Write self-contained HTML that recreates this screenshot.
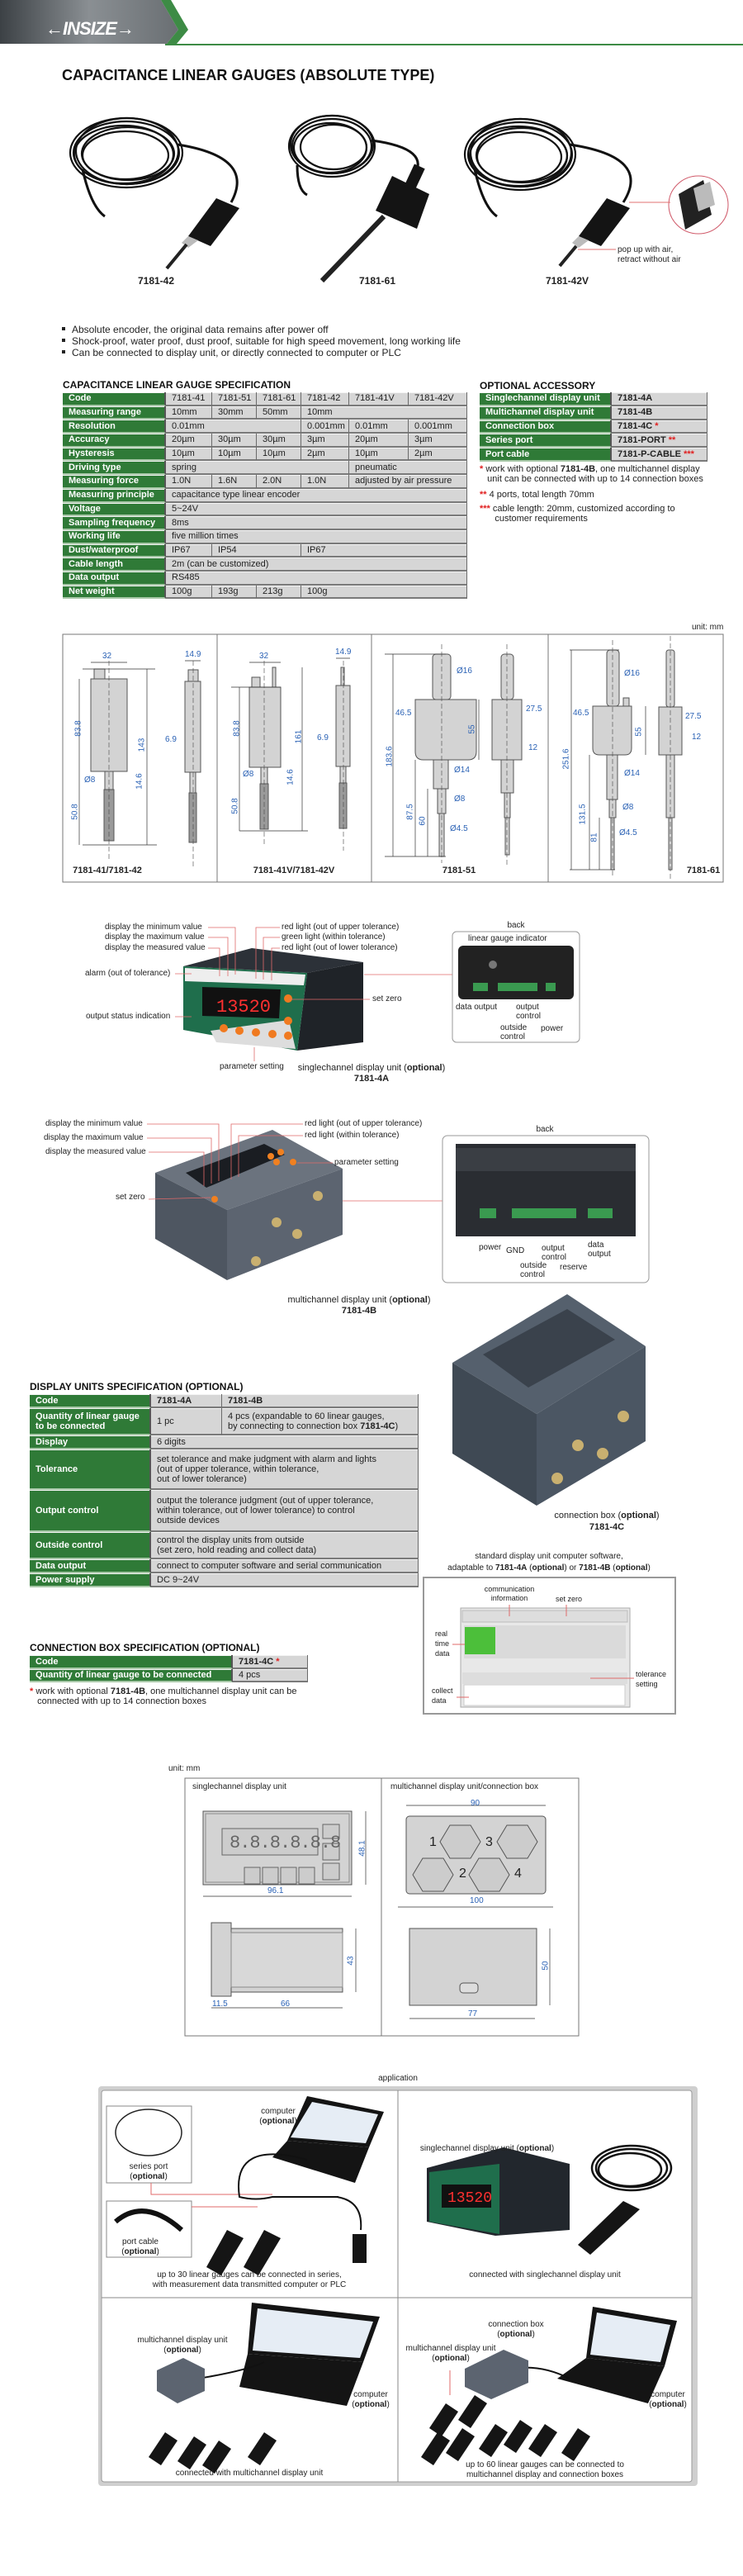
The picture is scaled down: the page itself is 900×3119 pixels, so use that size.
<!DOCTYPE html>
<html><head><meta charset="utf-8"><style>
*{margin:0;padding:0;box-sizing:border-box}
body{width:900px;height:3119px;position:relative;background:#fff;font-family:"Liberation Sans Narrow","Liberation Sans",sans-serif;color:#222;overflow:hidden}
.t{position:absolute;white-space:nowrap;font-size:11px;line-height:12px}
.c{text-align:center;transform:translateX(-50%)}
.h{position:absolute;font-weight:bold;font-size:13px;white-space:nowrap;color:#111}
table{position:absolute;border-collapse:separate;border-spacing:0;table-layout:fixed;font-size:11px}
td{background:#d6d6d6;border-right:1px solid #6a6a6a;border-bottom:2px solid #7a7a7a;padding:0 0 0 7px;white-space:nowrap;overflow:hidden;line-height:12px;box-shadow:inset 0 1px 0 #f4f4f4}
td.g{background:#2f7a37;color:#fff;font-weight:bold;border-bottom:2px solid #a8c8a8;border-right:2px solid #555}
.r{color:#e02020;font-weight:bold}
.b{color:#2b62b5;font-size:10px}
</style></head><body>
<svg width="900" height="3119" style="position:absolute;left:0;top:0">
<defs>
<linearGradient id="hd" x1="0" x2="1"><stop offset="0" stop-color="#3c4145"/><stop offset=".5" stop-color="#8a8f93"/><stop offset="1" stop-color="#6a6f73"/></linearGradient>
</defs>
<polygon points="0,0 195,0 216,36 202,53 0,53" fill="url(#hd)"/>
<polygon points="195,0 207,0 228,36 214,53 202,53 216,36" fill="#3d8b45"/>
<rect x="200" y="53" width="700" height="2" fill="#3d8b45"/>
<g fill="none" stroke="#111" stroke-width="2.2">
<ellipse cx="153" cy="185" rx="68" ry="42"/><ellipse cx="153" cy="185" rx="64" ry="38"/><ellipse cx="150" cy="187" rx="60" ry="35"/><ellipse cx="155" cy="186" rx="56" ry="32"/><ellipse cx="152" cy="188" rx="52" ry="29"/><ellipse cx="154" cy="183" rx="62" ry="40"/>
<path d="M215,175 Q310,190 280,245" stroke-width="3"/><path d="M100,205 Q110,250 127,262" stroke-width="3"/>
<ellipse cx="402" cy="177" rx="52" ry="37"/><ellipse cx="402" cy="177" rx="48" ry="33"/><ellipse cx="400" cy="179" rx="44" ry="30"/><ellipse cx="404" cy="178" rx="40" ry="27"/><ellipse cx="402" cy="175" rx="50" ry="35"/>
<path d="M450,170 Q525,180 500,215" stroke-width="3"/><path d="M360,200 Q360,230 372,236" stroke-width="3"/>
<ellipse cx="630" cy="187" rx="67" ry="43"/><ellipse cx="630" cy="187" rx="63" ry="39"/><ellipse cx="628" cy="189" rx="59" ry="36"/><ellipse cx="632" cy="188" rx="55" ry="33"/><ellipse cx="629" cy="190" rx="51" ry="30"/><ellipse cx="631" cy="185" rx="61" ry="41"/>
<path d="M690,175 Q790,190 755,245" stroke-width="3"/><path d="M575,205 Q585,250 602,262" stroke-width="3"/>
</g>
<g fill="#141414">
<polygon points="262,240 290,252 255,298 228,286"/><polygon points="228,286 240,291 228,300 220,294" fill="#bbb"/>
<line x1="226" y1="296" x2="202" y2="325" stroke="#222" stroke-width="4"/>
<polygon points="475,213 520,235 505,277 455,255"/><rect x="495" y="200" width="14" height="30" transform="rotate(25 502 215)"/>
<line x1="465" y1="262" x2="390" y2="340" stroke="#222" stroke-width="6"/>
<polygon points="735,240 763,252 728,298 701,286"/><polygon points="701,286 713,291 701,300 693,294" fill="#bbb"/>
<line x1="698" y1="298" x2="678" y2="322" stroke="#222" stroke-width="4"/>
</g>
<ellipse cx="846" cy="248" rx="36" ry="35" fill="#fff" stroke="#d05a6a" stroke-width="1"/>
<polygon points="822,235 852,218 862,260 830,278" fill="#222"/><polygon points="840,228 860,220 866,248 846,256" fill="#bbb"/>
<line x1="762" y1="245" x2="812" y2="245" stroke="#e07070"/><line x1="700" y1="302" x2="746" y2="302" stroke="#e07070"/>
<rect x="75" y="396" width="4" height="4" fill="#222"/><rect x="75" y="410" width="4" height="4" fill="#222"/><rect x="75" y="424" width="4" height="4" fill="#222"/>
<rect x="76" y="768" width="800" height="300" fill="none" stroke="#777"/>
<line x1="263" y1="768" x2="263" y2="1068" stroke="#777"/><line x1="450" y1="768" x2="450" y2="1068" stroke="#777"/><line x1="664" y1="768" x2="664" y2="1068" stroke="#777"/>
<g fill="#d3d3d3" stroke="#555" stroke-width="1">
<rect x="114" y="810" width="13" height="12"/><rect x="110" y="822" width="44" height="112"/><rect x="127" y="934" width="10" height="22"/><rect x="126" y="956" width="12" height="62" fill="#9a9a9a"/>
<rect x="228" y="811" width="12" height="14"/><rect x="224" y="825" width="19" height="110"/><rect x="230" y="935" width="7" height="25"/><rect x="229" y="960" width="9" height="60" fill="#9a9a9a"/>
<rect x="305" y="820" width="10" height="12"/><rect x="330" y="808" width="4" height="24"/><rect x="302" y="832" width="38" height="97"/><rect x="316" y="929" width="8" height="20"/><rect x="315" y="949" width="10" height="55" fill="#9a9a9a"/>
<rect x="413" y="808" width="4" height="22"/><rect x="407" y="830" width="17" height="98"/><rect x="412" y="928" width="7" height="20"/><rect x="411" y="948" width="9" height="55" fill="#9a9a9a"/>
<rect x="524" y="792" width="22" height="55" rx="4"/><path d="M503,847 H577 V910 Q577,920 567,920 H513 Q503,920 503,910Z"/><rect x="525" y="920" width="18" height="35"/><rect x="530" y="955" width="10" height="30"/><rect x="532" y="985" width="6" height="52"/>
<rect x="607" y="792" width="15" height="55" rx="4"/><rect x="596" y="847" width="36" height="73"/><rect x="607" y="920" width="15" height="40"/><rect x="611" y="960" width="7" height="30"/><rect x="612" y="990" width="5" height="45"/>
<rect x="735" y="787" width="15" height="68" rx="4"/><rect x="755" y="845" width="7" height="10"/><path d="M718,855 H765 V906 Q765,914 757,914 H726 Q718,914 718,906Z"/><rect x="735" y="914" width="13" height="54"/><rect x="738" y="968" width="8" height="22"/><rect x="740" y="990" width="4" height="63"/>
<rect x="807" y="787" width="10" height="69" rx="3"/><rect x="798" y="856" width="28" height="58"/><rect x="807" y="914" width="10" height="76"/><rect x="810" y="990" width="4" height="63"/>
</g>
<g stroke="#333" stroke-width=".7" fill="none">
<line x1="100" y1="810" x2="188" y2="810"/><line x1="100" y1="1023" x2="190" y2="1023"/><line x1="96" y1="822" x2="96" y2="934"/><line x1="178" y1="810" x2="178" y2="1023"/><line x1="96" y1="934" x2="96" y2="1023"/>
<line x1="110" y1="802" x2="154" y2="802"/><line x1="224" y1="800" x2="243" y2="800"/>
<line x1="280" y1="832" x2="340" y2="832"/><line x1="290" y1="1006" x2="373" y2="1006"/><line x1="366" y1="808" x2="366" y2="1006"/><line x1="290" y1="832" x2="290" y2="929"/><line x1="290" y1="929" x2="290" y2="1006"/>
<line x1="302" y1="802" x2="340" y2="802"/><line x1="407" y1="797" x2="424" y2="797"/>
<line x1="466" y1="792" x2="540" y2="792"/><line x1="466" y1="1037" x2="540" y2="1037"/><line x1="476" y1="792" x2="476" y2="1037"/><line x1="503" y1="920" x2="503" y2="1037"/><line x1="518" y1="955" x2="518" y2="1037"/><line x1="580" y1="847" x2="580" y2="920"/>
<line x1="690" y1="787" x2="750" y2="787"/><line x1="690" y1="1053" x2="745" y2="1053"/><line x1="692" y1="787" x2="692" y2="1053"/><line x1="714" y1="914" x2="714" y2="1053"/><line x1="726" y1="990" x2="726" y2="1053"/><line x1="782" y1="855" x2="782" y2="914"/>
</g>
<g stroke="#444" stroke-dasharray="6,3" stroke-width=".6"><line x1="132" y1="800" x2="132" y2="1040"/><line x1="234" y1="800" x2="234" y2="1050"/><line x1="320" y1="800" x2="320" y2="1025"/><line x1="416" y1="800" x2="416" y2="1030"/><line x1="535" y1="780" x2="535" y2="1045"/><line x1="614" y1="780" x2="614" y2="1050"/><line x1="742" y1="775" x2="742" y2="1060"/><line x1="812" y1="770" x2="812" y2="1065"/></g>
<polygon points="222,1170 305,1148 440,1165 372,1178" fill="#2c3138"/>
<polygon points="372,1178 440,1165 440,1262 360,1272" fill="#1f2328"/>
<polygon points="222,1170 372,1178 360,1272 222,1247" fill="#1f6e4c"/>
<polygon points="224,1172 370,1180 368,1193 224,1188" fill="#eee"/>
<polygon points="245,1195 340,1198 338,1233 245,1230" fill="#111"/>
<polygon points="255,1248 350,1235 358,1270 262,1262" fill="#ddd"/>
<g fill="#f07a20"><circle cx="271" cy="1245" r="5"/><circle cx="290" cy="1248" r="5"/><circle cx="310" cy="1250" r="5"/><circle cx="330" cy="1252" r="5"/><circle cx="349" cy="1254" r="5"/><circle cx="349" cy="1236" r="5"/><circle cx="349" cy="1209" r="5"/></g>
<text x="262" y="1225" font-family="Liberation Mono" font-size="22" fill="#ff3030">13520</text>
<g stroke="#e06a6a" stroke-width=".8" fill="none">
<polyline points="252,1123 285,1123 285,1180"/><polyline points="252,1135 276,1135 276,1182"/><polyline points="252,1148 266,1148 266,1182"/>
<polyline points="339,1123 310,1123 310,1185"/><polyline points="339,1135 319,1135 319,1186"/><polyline points="339,1148 329,1148 329,1187"/>
<line x1="212" y1="1179" x2="232" y2="1179"/><line x1="212" y1="1231" x2="232" y2="1231"/><line x1="308" y1="1268" x2="308" y2="1285"/><line x1="350" y1="1210" x2="448" y2="1210"/>
<line x1="441" y1="1180" x2="548" y2="1180"/>
<line x1="415" y1="1454" x2="536" y2="1454"/>
</g>
<rect x="548" y="1128" width="154" height="134" rx="5" fill="#fff" stroke="#999"/>
<rect x="555" y="1145" width="140" height="65" rx="6" fill="#222"/>
<g fill="#3a9a50"><rect x="573" y="1190" width="18" height="10"/><rect x="603" y="1190" width="48" height="10"/><rect x="661" y="1190" width="12" height="10"/></g>
<circle cx="597" cy="1168" r="5" fill="#777"/>
<polygon points="188,1420 330,1368 415,1415 275,1465" fill="#6b737e"/>
<polygon points="188,1420 275,1465 275,1550 188,1500" fill="#4e5661"/>
<polygon points="275,1465 415,1415 415,1495 275,1550" fill="#5c6470"/>
<polygon points="225,1420 320,1385 345,1398 250,1438" fill="#1a1d22"/>
<g fill="#f08020"><circle cx="328" cy="1400" r="4"/><circle cx="340" cy="1395" r="4"/><circle cx="335" cy="1407" r="4"/><circle cx="355" cy="1407" r="4"/><circle cx="260" cy="1452" r="4"/></g>
<g fill="#c9b070"><circle cx="335" cy="1480" r="6"/><circle cx="360" cy="1494" r="6"/><circle cx="385" cy="1448" r="6"/><circle cx="310" cy="1527" r="6"/></g>
<g stroke="#e06a6a" stroke-width=".8" fill="none">
<polyline points="178,1361 265,1361 265,1430"/><polyline points="178,1378 256,1378 256,1433"/><polyline points="180,1395 247,1395 247,1436"/>
<polyline points="367,1361 280,1361 280,1428"/><polyline points="367,1375 289,1375 289,1425"/>
<line x1="360" y1="1408" x2="403" y2="1408"/><line x1="180" y1="1452" x2="255" y2="1450"/>
</g>
<rect x="536" y="1375" width="250" height="178" rx="6" fill="#fff" stroke="#999"/>
<rect x="552" y="1385" width="218" height="112" fill="#2a2d32"/><rect x="552" y="1390" width="218" height="28" fill="#3a3e44"/>
<g fill="#3a9a50"><rect x="581" y="1463" width="20" height="12"/><rect x="620" y="1463" width="78" height="12"/><rect x="712" y="1463" width="30" height="12"/></g>
<polygon points="548,1650 687,1567 782,1630 650,1712" fill="#55606d"/>
<polygon points="548,1650 650,1712 650,1823 548,1760" fill="#3f4954"/>
<polygon points="650,1712 782,1630 782,1745 650,1823" fill="#4b5663"/>
<polygon points="585,1640 687,1585 745,1622 640,1680" fill="#3a424c"/>
<g fill="#c9b070"><circle cx="700" cy="1750" r="7"/><circle cx="730" cy="1760" r="7"/><circle cx="755" cy="1715" r="7"/><circle cx="675" cy="1790" r="7"/></g>
<rect x="513" y="1910" width="305" height="165" fill="#fff" stroke="#999" stroke-width="2"/>
<rect x="558" y="1947" width="205" height="120" fill="#e8e8e8" stroke="#aaa"/>
<rect x="560" y="1950" width="200" height="14" fill="#ddd" stroke="#bbb"/>
<rect x="562" y="1968" width="196" height="40" fill="#dadada"/>
<rect x="563" y="1970" width="37" height="33" fill="#4cbf3a"/>
<rect x="560" y="2025" width="200" height="14" fill="#ddd"/>
<rect x="562" y="2040" width="195" height="25" fill="#fff" stroke="#ccc"/>
<g stroke="#e06a6a" stroke-width="1"><line x1="617" y1="1943" x2="617" y2="1957"/><line x1="686" y1="1943" x2="686" y2="1957"/><line x1="548" y1="1991" x2="563" y2="1991"/><line x1="715" y1="2032" x2="768" y2="2032"/><line x1="553" y1="2055" x2="568" y2="2055"/></g>
<rect x="224" y="2153" width="477" height="312" fill="none" stroke="#777"/><line x1="462" y1="2153" x2="462" y2="2465" stroke="#777"/>
<rect x="246" y="2193" width="180" height="89" fill="#d3d3d3" stroke="#555"/><rect x="249" y="2196" width="174" height="83" fill="none" stroke="#888"/>
<rect x="269" y="2214" width="116" height="32" fill="#ccc" stroke="#666"/>
<g fill="#ccc" stroke="#666"><rect x="391" y="2209" width="20" height="17"/><rect x="391" y="2232" width="20" height="20"/><rect x="391" y="2256" width="20" height="20"/><rect x="296" y="2261" width="19" height="20"/><rect x="318" y="2261" width="19" height="20"/><rect x="340" y="2261" width="19" height="20"/><rect x="362" y="2261" width="19" height="20"/></g>
<rect x="256" y="2328" width="24" height="89" fill="#d3d3d3" stroke="#555"/><rect x="280" y="2335" width="135" height="77" fill="#d3d3d3" stroke="#555"/><rect x="280" y="2340" width="135" height="66" fill="#d8d8d8" stroke="#888"/>
<rect x="492" y="2199" width="169" height="94" rx="4" fill="#d3d3d3" stroke="#555"/>
<g fill="#ccc" stroke="#555"><polygon points="545,2210 570,2210 582,2230 570,2250 545,2250 533,2230"/><polygon points="614,2210 639,2210 651,2230 639,2250 614,2250 602,2230"/><polygon points="512,2250 537,2250 549,2270 537,2290 512,2290 500,2270"/><polygon points="580,2250 605,2250 617,2270 605,2290 580,2290 568,2270"/></g>
<rect x="496" y="2335" width="154" height="93" fill="#d3d3d3" stroke="#555"/>
<rect x="557" y="2401" width="22" height="12" rx="4" fill="#ddd" stroke="#555"/>
<g stroke="#333" stroke-width=".7"><line x1="246" y1="2296" x2="426" y2="2296"/><line x1="443" y1="2193" x2="443" y2="2282"/><line x1="256" y1="2431" x2="280" y2="2431"/><line x1="280" y1="2431" x2="415" y2="2431"/><line x1="431" y1="2335" x2="431" y2="2412"/><line x1="492" y1="2186" x2="661" y2="2186"/><line x1="482" y1="2309" x2="670" y2="2309"/><line x1="496" y1="2444" x2="648" y2="2444"/><line x1="666" y1="2335" x2="666" y2="2428"/></g>
<rect x="119" y="2526" width="726" height="484" rx="4" fill="#cfcfcf"/>
<rect x="123" y="2531" width="715" height="474" rx="3" fill="#fff" stroke="#999"/>
<line x1="482" y1="2531" x2="482" y2="3005" stroke="#888"/><line x1="123" y1="2782" x2="838" y2="2782" stroke="#888"/>
<rect x="129" y="2550" width="103" height="93" fill="#fff" stroke="#888"/><rect x="129" y="2665" width="103" height="68" fill="#fff" stroke="#888"/>
<ellipse cx="180" cy="2582" rx="40" ry="28" fill="none" stroke="#222" stroke-width="1.5"/>
<path d="M140,2690 Q175,2660 220,2700" fill="none" stroke="#111" stroke-width="6"/>
<g stroke="#e06a6a" stroke-width="1" fill="none"><polyline points="183,2643 183,2657 330,2657"/><line x1="232" y1="2672" x2="312" y2="2672"/></g>
<g fill="#141414">
<polygon points="372,2538 465,2557 447,2600 348,2592"/><polygon points="348,2592 447,2600 430,2643 330,2612"/>
<polygon points="305,2788 460,2805 440,2860 300,2850" /><polygon points="300,2850 440,2860 420,2913 290,2890"/>
<polygon points="718,2793 820,2810 805,2865 710,2855"/><polygon points="710,2855 805,2865 785,2910 675,2880"/>
</g>
<g fill="#e6edf5"><polygon points="378,2545 458,2560 443,2595 352,2588"/><polygon points="312,2795 452,2811 436,2855 306,2846"/><polygon points="723,2800 812,2815 800,2860 715,2851"/></g>
<g stroke="#111" stroke-width="2" fill="none"><path d="M372,2615 Q280,2590 290,2660 Q310,2665 330,2660 L410,2660"/><path d="M408,2660 Q440,2665 437,2700"/><path d="M240,2880 Q300,2870 320,2860"/><path d="M612,2870 Q650,2860 690,2880"/></g>
<g fill="#151515"><polygon points="275,2700 295,2710 268,2755 250,2745"/><polygon points="320,2700 340,2710 313,2755 295,2745"/><rect x="427" y="2705" width="17" height="35"/>
<polygon points="200,2945 215,2955 195,2985 180,2975"/><polygon points="235,2950 250,2960 230,2990 215,2980"/><polygon points="265,2955 280,2965 260,2995 245,2985"/><polygon points="320,2945 335,2955 315,2985 300,2975"/>
<polygon points="530,2945 545,2955 525,2985 510,2975"/><polygon points="560,2940 575,2950 555,2980 540,2970"/><polygon points="600,2935 615,2945 595,2975 580,2965"/><polygon points="630,2930 645,2940 625,2970 610,2960"/><polygon points="660,2935 675,2945 655,2975 640,2965"/><polygon points="700,2940 715,2950 695,2980 680,2970"/><polygon points="540,2910 555,2920 535,2950 520,2940"/><polygon points="575,2900 590,2910 570,2940 555,2930"/></g>
<g fill="none" stroke="#111" stroke-width="2.5"><ellipse cx="765" cy="2625" rx="48" ry="27"/><ellipse cx="765" cy="2625" rx="43" ry="23"/><ellipse cx="763" cy="2627" rx="38" ry="20"/></g>
<polygon points="755,2665 775,2675 715,2730 700,2718" fill="#151515"/>
<polygon points="517,2625 610,2600 690,2620 690,2700 600,2707 517,2690" fill="#22272d"/>
<polygon points="520,2630 605,2620 605,2705 520,2690" fill="#1f6e4c"/>
<rect x="535" y="2645" width="60" height="28" fill="#111"/>
<text x="542" y="2666" font-family="Liberation Mono" font-size="18" fill="#ff3030">13520</text>
<polygon points="190,2870 222,2855 248,2868 248,2895 215,2910 190,2895" fill="#5c6470"/>
<polygon points="563,2868 610,2845 640,2858 640,2885 595,2905 563,2890" fill="#5c6470"/>
<line x1="545" y1="2870" x2="545" y2="2900" stroke="#e06a6a"/>
</svg>

<div style="position:absolute;left:55px;top:22px;font:italic bold 22px 'Liberation Sans',sans-serif;color:#fff;letter-spacing:-1px">&#8592;INSIZE&#8594;</div>
<div class="h" style="left:75px;top:81px;font-size:18px">CAPACITANCE LINEAR GAUGES (ABSOLUTE TYPE)</div>
<div class="t c" style="left:189px;top:334px;font-weight:bold;font-size:12px">7181-42</div>
<div class="t c" style="left:457px;top:334px;font-weight:bold;font-size:12px">7181-61</div>
<div class="t c" style="left:687px;top:334px;font-weight:bold;font-size:12px">7181-42V</div>
<div class="t" style="left:748px;top:297px;font-size:10px">pop up with air,<br>retract without air</div>
<div class="t" style="left:87px;top:393px;font-size:12px">Absolute encoder, the original data remains after power off</div>
<div class="t" style="left:87px;top:407px;font-size:12px">Shock-proof, water proof, dust proof, suitable for high speed movement, long working life</div>
<div class="t" style="left:87px;top:421px;font-size:12px">Can be connected to display unit, or directly connected to computer or PLC</div>

<div class="h" style="left:76px;top:459px;font-size:12px">CAPACITANCE LINEAR GAUGE SPECIFICATION</div>
<table style="left:76px;top:475px;width:490px">
<colgroup><col style="width:125px"><col style="width:56px"><col style="width:54px"><col style="width:54px"><col style="width:58px"><col style="width:72px"><col style="width:71px"></colgroup>
<tr style="height:16.7px"><td class="g">Code</td><td>7181-41</td><td>7181-51</td><td>7181-61</td><td>7181-42</td><td>7181-41V</td><td>7181-42V</td></tr>
<tr style="height:16.7px"><td class="g">Measuring range</td><td>10mm</td><td>30mm</td><td>50mm</td><td colspan="3">10mm</td></tr>
<tr style="height:16.7px"><td class="g">Resolution</td><td colspan="3">0.01mm</td><td>0.001mm</td><td>0.01mm</td><td>0.001mm</td></tr>
<tr style="height:16.7px"><td class="g">Accuracy</td><td>20µm</td><td>30µm</td><td>30µm</td><td>3µm</td><td>20µm</td><td>3µm</td></tr>
<tr style="height:16.7px"><td class="g">Hysteresis</td><td>10µm</td><td>10µm</td><td>10µm</td><td>2µm</td><td>10µm</td><td>2µm</td></tr>
<tr style="height:16.7px"><td class="g">Driving type</td><td colspan="4">spring</td><td colspan="2">pneumatic</td></tr>
<tr style="height:16.7px"><td class="g">Measuring force</td><td>1.0N</td><td>1.6N</td><td>2.0N</td><td>1.0N</td><td colspan="2">adjusted by air pressure</td></tr>
<tr style="height:16.7px"><td class="g">Measuring principle</td><td colspan="6">capacitance type linear encoder</td></tr>
<tr style="height:16.7px"><td class="g">Voltage</td><td colspan="6">5~24V</td></tr>
<tr style="height:16.7px"><td class="g">Sampling frequency</td><td colspan="6">8ms</td></tr>
<tr style="height:16.7px"><td class="g">Working life</td><td colspan="6">five million times</td></tr>
<tr style="height:16.7px"><td class="g">Dust/waterproof</td><td>IP67</td><td colspan="2">IP54</td><td colspan="3">IP67</td></tr>
<tr style="height:16.7px"><td class="g">Cable length</td><td colspan="6">2m (can be customized)</td></tr>
<tr style="height:16.7px"><td class="g">Data output</td><td colspan="6">RS485</td></tr>
<tr style="height:16.7px"><td class="g">Net weight</td><td>100g</td><td>193g</td><td>213g</td><td colspan="3">100g</td></tr>
</table>

<div class="h" style="left:581px;top:460px;font-size:12px">OPTIONAL ACCESSORY</div>
<table style="left:581px;top:475px;width:276px">
<colgroup><col style="width:160px"><col style="width:116px"></colgroup>
<tr style="height:16.8px"><td class="g">Singlechannel display unit</td><td style="font-weight:bold">7181-4A</td></tr>
<tr style="height:16.8px"><td class="g">Multichannel display unit</td><td style="font-weight:bold">7181-4B</td></tr>
<tr style="height:16.8px"><td class="g">Connection box</td><td style="font-weight:bold">7181-4C <span class="r">*</span></td></tr>
<tr style="height:16.8px"><td class="g">Series port</td><td style="font-weight:bold">7181-PORT <span class="r">**</span></td></tr>
<tr style="height:16.8px"><td class="g">Port cable</td><td style="font-weight:bold">7181-P-CABLE <span class="r">***</span></td></tr>
</table>
<div class="t" style="left:581px;top:562px"><span class="r">*</span> work with optional <b>7181-4B</b>, one multichannel display<br>&nbsp;&nbsp;&nbsp;unit can be connected with up to 14 connection boxes</div>
<div class="t" style="left:581px;top:593px"><span class="r">**</span> 4 ports, total length 70mm</div>
<div class="t" style="left:581px;top:610px"><span class="r">***</span> cable length: 20mm, customized according to<br>&nbsp;&nbsp;&nbsp;&nbsp;&nbsp;&nbsp;customer requirements</div>
<div class="t" style="left:838px;top:754px;font-size:10px">unit: mm</div>

<div class="t b" style="left:124px;top:789px">32</div><div class="t b" style="left:224px;top:787px">14.9</div>
<div class="t b" style="left:86px;top:876px;transform:rotate(-90deg)">83.8</div><div class="t b" style="left:164px;top:896px;transform:rotate(-90deg)">143</div>
<div class="t b" style="left:200px;top:890px">6.9</div><div class="t b" style="left:102px;top:939px">Ø8</div><div class="t b" style="left:160px;top:940px;transform:rotate(-90deg)">14.6</div><div class="t b" style="left:82px;top:977px;transform:rotate(-90deg)">50.8</div>
<div class="t b" style="left:314px;top:789px">32</div><div class="t b" style="left:406px;top:784px">14.9</div>
<div class="t b" style="left:278px;top:876px;transform:rotate(-90deg)">83.8</div><div class="t b" style="left:354px;top:886px;transform:rotate(-90deg)">161</div>
<div class="t b" style="left:384px;top:888px">6.9</div><div class="t b" style="left:294px;top:932px">Ø8</div><div class="t b" style="left:343px;top:935px;transform:rotate(-90deg)">14.6</div><div class="t b" style="left:276px;top:970px;transform:rotate(-90deg)">50.8</div>
<div class="t b" style="left:553px;top:807px">Ø16</div><div class="t b" style="left:479px;top:858px">46.5</div><div class="t b" style="left:637px;top:853px">27.5</div><div class="t b" style="left:567px;top:877px;transform:rotate(-90deg)">55</div><div class="t b" style="left:640px;top:900px">12</div>
<div class="t b" style="left:460px;top:910px;transform:rotate(-90deg)">183.6</div><div class="t b" style="left:550px;top:927px">Ø14</div><div class="t b" style="left:550px;top:962px">Ø8</div><div class="t b" style="left:488px;top:977px;transform:rotate(-90deg)">87.5</div><div class="t b" style="left:507px;top:988px;transform:rotate(-90deg)">60</div><div class="t b" style="left:545px;top:998px">Ø4.5</div>
<div class="t b" style="left:756px;top:810px">Ø16</div><div class="t b" style="left:694px;top:858px">46.5</div><div class="t b" style="left:830px;top:862px">27.5</div><div class="t b" style="left:769px;top:880px;transform:rotate(-90deg)">55</div><div class="t b" style="left:838px;top:887px">12</div>
<div class="t b" style="left:674px;top:913px;transform:rotate(-90deg)">251.6</div><div class="t b" style="left:756px;top:931px">Ø14</div><div class="t b" style="left:694px;top:980px;transform:rotate(-90deg)">131.5</div><div class="t b" style="left:754px;top:972px">Ø8</div><div class="t b" style="left:715px;top:1008px;transform:rotate(-90deg)">81</div><div class="t b" style="left:750px;top:1003px">Ø4.5</div>
<div class="t c" style="left:130px;top:1048px;font-weight:bold">7181-41/7181-42</div>
<div class="t c" style="left:356px;top:1048px;font-weight:bold">7181-41V/7181-42V</div>
<div class="t c" style="left:556px;top:1048px;font-weight:bold">7181-51</div>
<div class="t c" style="left:852px;top:1048px;font-weight:bold">7181-61</div>

<div class="t" style="left:127px;top:1117px;font-size:10px">display the minimum value</div>
<div class="t" style="left:127px;top:1129px;font-size:10px">display the maximum value</div>
<div class="t" style="left:127px;top:1142px;font-size:10px">display the measured value</div>
<div class="t" style="left:341px;top:1117px;font-size:10px">red light (out of upper tolerance)</div>
<div class="t" style="left:341px;top:1129px;font-size:10px">green light (within tolerance)</div>
<div class="t" style="left:341px;top:1142px;font-size:10px">red light (out of lower tolerance)</div>
<div class="t" style="left:103px;top:1173px;font-size:10px">alarm (out of tolerance)</div>
<div class="t" style="left:104px;top:1225px;font-size:10px">output status indication</div>
<div class="t" style="left:451px;top:1204px;font-size:10px">set zero</div>
<div class="t" style="left:266px;top:1286px;font-size:10px">parameter setting</div>
<div class="t c" style="left:625px;top:1115px;font-size:10px">back</div>
<div class="t" style="left:567px;top:1131px;font-size:10px">linear gauge indicator</div>
<div class="t" style="left:552px;top:1214px;font-size:10px">data output</div>
<div class="t" style="left:625px;top:1214px;font-size:10px;line-height:11px">output<br>control</div>
<div class="t" style="left:606px;top:1239px;font-size:10px;line-height:11px">outside<br>control</div>
<div class="t" style="left:655px;top:1240px;font-size:10px">power</div>
<div class="t c" style="left:450px;top:1287px">singlechannel display unit (<b>optional</b>)</div>
<div class="t c" style="left:450px;top:1300px;font-weight:bold">7181-4A</div>

<div class="t" style="left:55px;top:1355px;font-size:10px">display the minimum value</div>
<div class="t" style="left:53px;top:1372px;font-size:10px">display the maximum value</div>
<div class="t" style="left:55px;top:1389px;font-size:10px">display the measured value</div>
<div class="t" style="left:369px;top:1355px;font-size:10px">red light (out of upper tolerance)</div>
<div class="t" style="left:369px;top:1369px;font-size:10px">red light (within tolerance)</div>
<div class="t" style="left:405px;top:1402px;font-size:10px">parameter setting</div>
<div class="t" style="left:140px;top:1444px;font-size:10px">set zero</div>
<div class="t c" style="left:660px;top:1362px;font-size:10px">back</div>
<div class="t" style="left:580px;top:1505px;font-size:10px">power</div>
<div class="t" style="left:613px;top:1509px;font-size:10px">GND</div>
<div class="t" style="left:656px;top:1506px;font-size:10px;line-height:11px">output<br>control</div>
<div class="t" style="left:712px;top:1502px;font-size:10px;line-height:11px">data<br>output</div>
<div class="t" style="left:630px;top:1527px;font-size:10px;line-height:11px">outside<br>control</div>
<div class="t" style="left:678px;top:1529px;font-size:10px">reserve</div>
<div class="t c" style="left:435px;top:1568px">multichannel display unit (<b>optional</b>)</div>
<div class="t c" style="left:435px;top:1581px;font-weight:bold">7181-4B</div>

<div class="h" style="left:36px;top:1672px;font-size:12px">DISPLAY UNITS SPECIFICATION (OPTIONAL)</div>
<table style="left:36px;top:1688px;width:471px">
<colgroup><col style="width:147px"><col style="width:86px"><col style="width:238px"></colgroup>
<tr style="height:17px"><td class="g">Code</td><td style="font-weight:bold">7181-4A</td><td style="font-weight:bold">7181-4B</td></tr>
<tr style="height:33px"><td class="g">Quantity of linear gauge<br>to be connected</td><td>1 pc</td><td>4 pcs (expandable to 60 linear gauges,<br>by connecting to connection box <b>7181-4C</b>)</td></tr>
<tr style="height:17px"><td class="g">Display</td><td colspan="2">6 digits</td></tr>
<tr style="height:49px"><td class="g">Tolerance</td><td colspan="2">set tolerance and make judgment with alarm and lights<br>(out of upper tolerance, within tolerance,<br>out of lower tolerance)</td></tr>
<tr style="height:51px"><td class="g">Output control</td><td colspan="2">output the tolerance judgment (out of upper tolerance,<br>within tolerance, out of lower tolerance) to control<br>outside devices</td></tr>
<tr style="height:33px"><td class="g">Outside control</td><td colspan="2">control the display units from outside<br>(set zero, hold reading and collect data)</td></tr>
<tr style="height:17px"><td class="g">Data output</td><td colspan="2">connect to computer software and serial communication</td></tr>
<tr style="height:17px"><td class="g">Power supply</td><td colspan="2">DC 9~24V</td></tr>
</table>
<div class="t c" style="left:735px;top:1829px">connection box (<b>optional</b>)</div>
<div class="t c" style="left:735px;top:1843px;font-weight:bold">7181-4C</div>
<div class="t c" style="left:665px;top:1879px;font-size:10px">standard display unit computer software,</div>
<div class="t c" style="left:665px;top:1893px;font-size:10px">adaptable to <b>7181-4A</b> (<b>optional</b>) or <b>7181-4B</b> (<b>optional</b>)</div>
<div class="t c" style="left:617px;top:1919px;font-size:9px;line-height:11px">communication<br>information</div>
<div class="t" style="left:673px;top:1930px;font-size:9px">set zero</div>
<div class="t" style="left:527px;top:1972px;font-size:9px;line-height:12px">real<br>time<br>data</div>
<div class="t" style="left:770px;top:2021px;font-size:9px;line-height:12px">tolerance<br>setting</div>
<div class="t" style="left:523px;top:2041px;font-size:9px;line-height:12px">collect<br>data</div>

<div class="h" style="left:36px;top:1988px;font-size:12px">CONNECTION BOX SPECIFICATION (OPTIONAL)</div>
<table style="left:36px;top:2004px;width:337px">
<colgroup><col style="width:246px"><col style="width:91px"></colgroup>
<tr style="height:17px"><td class="g">Code</td><td style="font-weight:bold">7181-4C <span class="r">*</span></td></tr>
<tr style="height:16px"><td class="g">Quantity of linear gauge to be connected</td><td>4 pcs</td></tr>
</table>
<div class="t" style="left:36px;top:2042px"><span class="r">*</span> work with optional <b>7181-4B</b>, one multichannel display unit can be<br>&nbsp;&nbsp;&nbsp;connected with up to 14 connection boxes</div>

<div class="t" style="left:204px;top:2136px;font-size:10px">unit: mm</div>
<div class="t" style="left:233px;top:2158px;font-size:10px">singlechannel display unit</div>
<div class="t" style="left:473px;top:2158px;font-size:10px">multichannel display unit/connection box</div>
<div class="t" style="left:278px;top:2226px;font-family:'Liberation Mono';font-size:22px;color:#666;letter-spacing:-1px">8.8.8.8.8.8</div>
<div class="t b" style="left:324px;top:2284px">96.1</div>
<div class="t b" style="left:430px;top:2232px;transform:rotate(-90deg)">48.1</div>
<div class="t b" style="left:257px;top:2421px">11.5</div><div class="t b" style="left:340px;top:2421px">66</div>
<div class="t b" style="left:420px;top:2368px;transform:rotate(-90deg)">43</div>
<div class="t b" style="left:570px;top:2178px">90</div><div class="t b" style="left:569px;top:2296px">100</div>
<div class="t b" style="left:567px;top:2433px">77</div><div class="t b" style="left:656px;top:2374px;transform:rotate(-90deg)">50</div>
<div class="t" style="left:520px;top:2225px;font-size:16px">1</div><div class="t" style="left:588px;top:2225px;font-size:16px">3</div><div class="t" style="left:556px;top:2263px;font-size:16px">2</div><div class="t" style="left:623px;top:2263px;font-size:16px">4</div>

<div class="t c" style="left:482px;top:2511px;font-size:10px">application</div>
<div class="t c" style="left:180px;top:2618px;font-size:10px;line-height:12px">series port<br>(<b>optional</b>)</div>
<div class="t c" style="left:170px;top:2709px;font-size:10px;line-height:12px">port cable<br>(<b>optional</b>)</div>
<div class="t c" style="left:337px;top:2551px;font-size:10px;line-height:12px">computer<br>(<b>optional</b>)</div>
<div class="t c" style="left:302px;top:2749px;font-size:10px;line-height:12px">up to 30 linear gauges can be connected in series,<br>with measurement data transmitted computer or PLC</div>
<div class="t c" style="left:590px;top:2596px;font-size:10px">singlechannel display unit (<b>optional</b>)</div>
<div class="t c" style="left:660px;top:2749px;font-size:10px">connected with singlechannel display unit</div>
<div class="t c" style="left:221px;top:2828px;font-size:10px;line-height:12px">multichannel display unit<br>(<b>optional</b>)</div>
<div class="t c" style="left:449px;top:2894px;font-size:10px;line-height:12px">computer<br>(<b>optional</b>)</div>
<div class="t c" style="left:302px;top:2989px;font-size:10px">connected with multichannel display unit</div>
<div class="t c" style="left:625px;top:2809px;font-size:10px;line-height:12px">connection box<br>(<b>optional</b>)</div>
<div class="t c" style="left:546px;top:2838px;font-size:10px;line-height:12px">multichannel display unit<br>(<b>optional</b>)</div>
<div class="t c" style="left:809px;top:2894px;font-size:10px;line-height:12px">computer<br>(<b>optional</b>)</div>
<div class="t c" style="left:660px;top:2979px;font-size:10px;line-height:12px">up to 60 linear gauges can be connected to<br>multichannel display and connection boxes</div>
</body></html>
